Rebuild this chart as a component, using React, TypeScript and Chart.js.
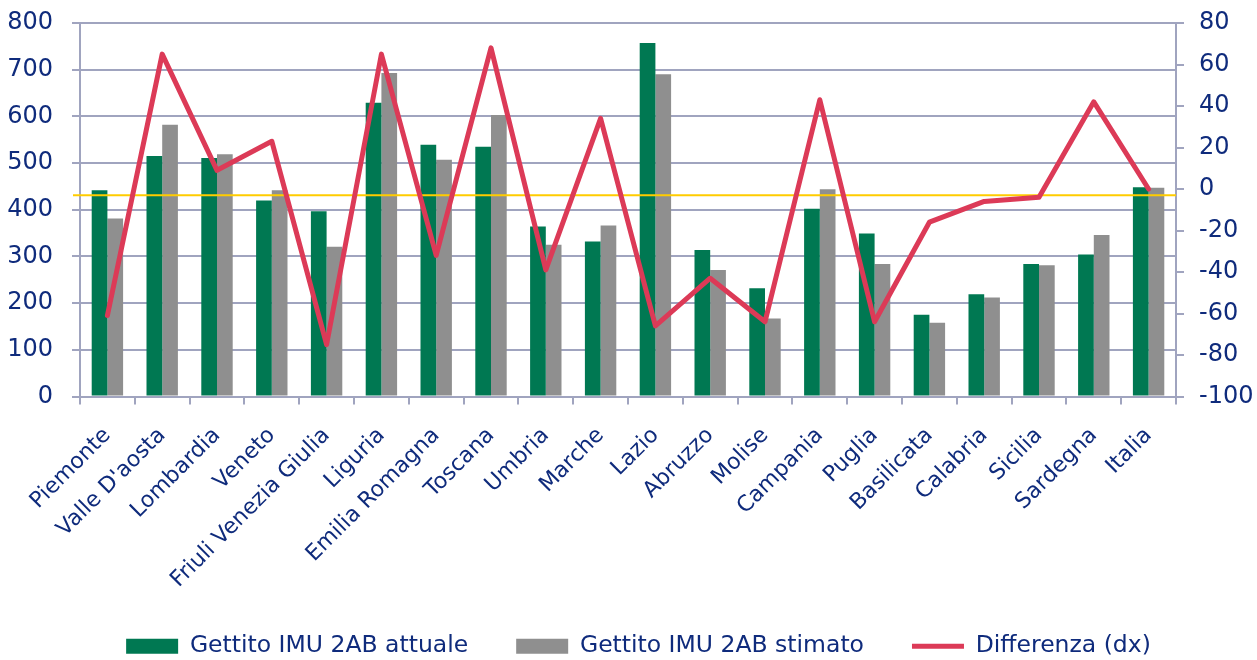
import React, { useEffect, useRef } from 'react';
import { Chart, registerables } from 'chart.js';

Chart.register(...registerables);

const categories = [
  'Piemonte', "Valle D'aosta", 'Lombardia', 'Veneto', 'Friuli Venezia Giulia', 'Liguria',
  'Emilia Romagna', 'Toscana', 'Umbria', 'Marche', 'Lazio', 'Abruzzo', 'Molise', 'Campania',
  'Puglia', 'Basilicata', 'Calabria', 'Sicilia', 'Sardegna', 'Italia',
];
const gettitoAttuale = [442, 515, 511, 420, 397, 629, 539, 535, 364, 332, 757, 314, 232, 402, 349, 175, 219, 284, 304, 448];
const gettitoStimato = [381, 582, 519, 442, 321, 693, 507, 603, 325, 366, 690, 271, 167, 444, 284, 158, 212, 281, 346, 447];
const differenza = [-61, 65, 9, 23, -75, 65, -32, 68, -39, 34, -66, -43, -64, 43, -64, -16, -6, -4, 42, 0];
const seriesNames = ['Gettito IMU 2AB attuale', 'Gettito IMU 2AB stimato', 'Differenza (dx)'];
const leftAxisRange = [0, 800, 100];
const rightAxisRange = [-100, 80, 20];
const referenceLevel = 431;

const FONT = "'DejaVu Sans', Verdana, sans-serif";
const TEXT = '#0f2b7c';
const GRID = '#a0a4bf';
const GREEN = '#007852';
const GRAY = '#8f8f8f';
const RED = '#dc3a57';
const YELLOW = '#ffcc00';

const referenceLinePlugin = {
  id: 'referenceLine',
  afterLayout(chart: any) {
    const lg = chart.legend;
    if (lg) {
      lg.left += 10;
      lg.right += 10;
    }
  },
  beforeDatasetDraw(chart: any, args: any) {
    if (args.meta.type !== 'line') return;
    const y = chart.scales.y.getPixelForValue(referenceLevel);
    const { left, right } = chart.chartArea;
    const ctx = chart.ctx;
    ctx.save();
    ctx.strokeStyle = YELLOW;
    ctx.lineWidth = 2;
    ctx.beginPath();
    ctx.moveTo(left - 7, y);
    ctx.lineTo(right, y);
    ctx.stroke();
    ctx.restore();
  },
};

export default function App() {
  const canvasRef = useRef<HTMLCanvasElement | null>(null);

  useEffect(() => {
    if (!canvasRef.current) return;
    const chart = new Chart(canvasRef.current, {
      type: 'bar',
      data: {
        labels: categories,
        datasets: [
          {
            type: 'bar',
            label: seriesNames[0],
            data: gettitoAttuale,
            backgroundColor: GREEN,
            yAxisID: 'y',
            order: 1,
            pointStyle: 'rect',
          } as any,
          {
            type: 'bar',
            label: seriesNames[1],
            data: gettitoStimato,
            backgroundColor: GRAY,
            yAxisID: 'y',
            order: 2,
            pointStyle: 'rect',
          } as any,
          {
            type: 'line',
            label: seriesNames[2],
            data: differenza,
            borderColor: RED,
            backgroundColor: RED,
            borderWidth: 5,
            pointRadius: 0,
            tension: 0,
            borderJoinStyle: 'round',
            borderCapStyle: 'round',
            yAxisID: 'y1',
            order: 0,
            pointStyle: 'line',
          } as any,
        ],
      },
      options: {
        animation: false,
        responsive: true,
        maintainAspectRatio: false,
        layout: { padding: { top: 23, bottom: -8, left: 0, right: 0 } },
        datasets: {
          bar: { categoryPercentage: 0.573, barPercentage: 1.0 },
        },
        plugins: {
          tooltip: { enabled: false },
          legend: {
            position: 'bottom',
            labels: {
              usePointStyle: true,
              pointStyleWidth: 52,
              boxHeight: 15,
              padding: 48,
              color: TEXT,
              font: { family: FONT, size: 23.5 },
              sort: (a: any, b: any) => a.datasetIndex - b.datasetIndex,
            },
          },
        },
        scales: {
          x: {
            offset: true,
            grid: {
              offset: true,
              drawOnChartArea: false,
              drawTicks: true,
              tickLength: 8,
              color: GRID,
              lineWidth: 2,
            },
            border: { color: GRID, width: 2 },
            ticks: {
              autoSkip: false,
              maxRotation: 45,
              minRotation: 45,
              padding: 18,
              color: TEXT,
              font: { family: FONT, size: 22 },
            },
            afterFit: (scale: any) => {
              scale.height = 190;
            },
          },
          y: {
            position: 'left',
            min: leftAxisRange[0],
            max: leftAxisRange[1],
            ticks: {
              stepSize: leftAxisRange[2],
              padding: 19,
              color: TEXT,
              font: { family: FONT, size: 24 },
            },
            grid: { color: GRID, lineWidth: 2, tickLength: 8 },
            border: { color: GRID, width: 2 },
            afterFit: (scale: any) => {
              scale.width = 80;
              scale.paddingTop = 0;
              scale.paddingBottom = 0;
            },
          },
          y1: {
            position: 'right',
            min: rightAxisRange[0],
            max: rightAxisRange[1],
            ticks: {
              stepSize: rightAxisRange[2],
              padding: 15,
              color: TEXT,
              font: { family: FONT, size: 24 },
            },
            grid: { drawOnChartArea: false, color: GRID, lineWidth: 2, tickLength: 8 },
            border: { color: GRID, width: 2 },
            afterFit: (scale: any) => {
              scale.width = 81;
              scale.paddingTop = 0;
              scale.paddingBottom = 0;
            },
          },
        },
      },
      plugins: [referenceLinePlugin],
    });
    return () => chart.destroy();
  }, []);

  return (
    <div style={{ position: 'fixed', left: 0, top: 0, width: 1257, height: 660, background: '#ffffff' }}>
      <canvas ref={canvasRef} />
    </div>
  );
}
